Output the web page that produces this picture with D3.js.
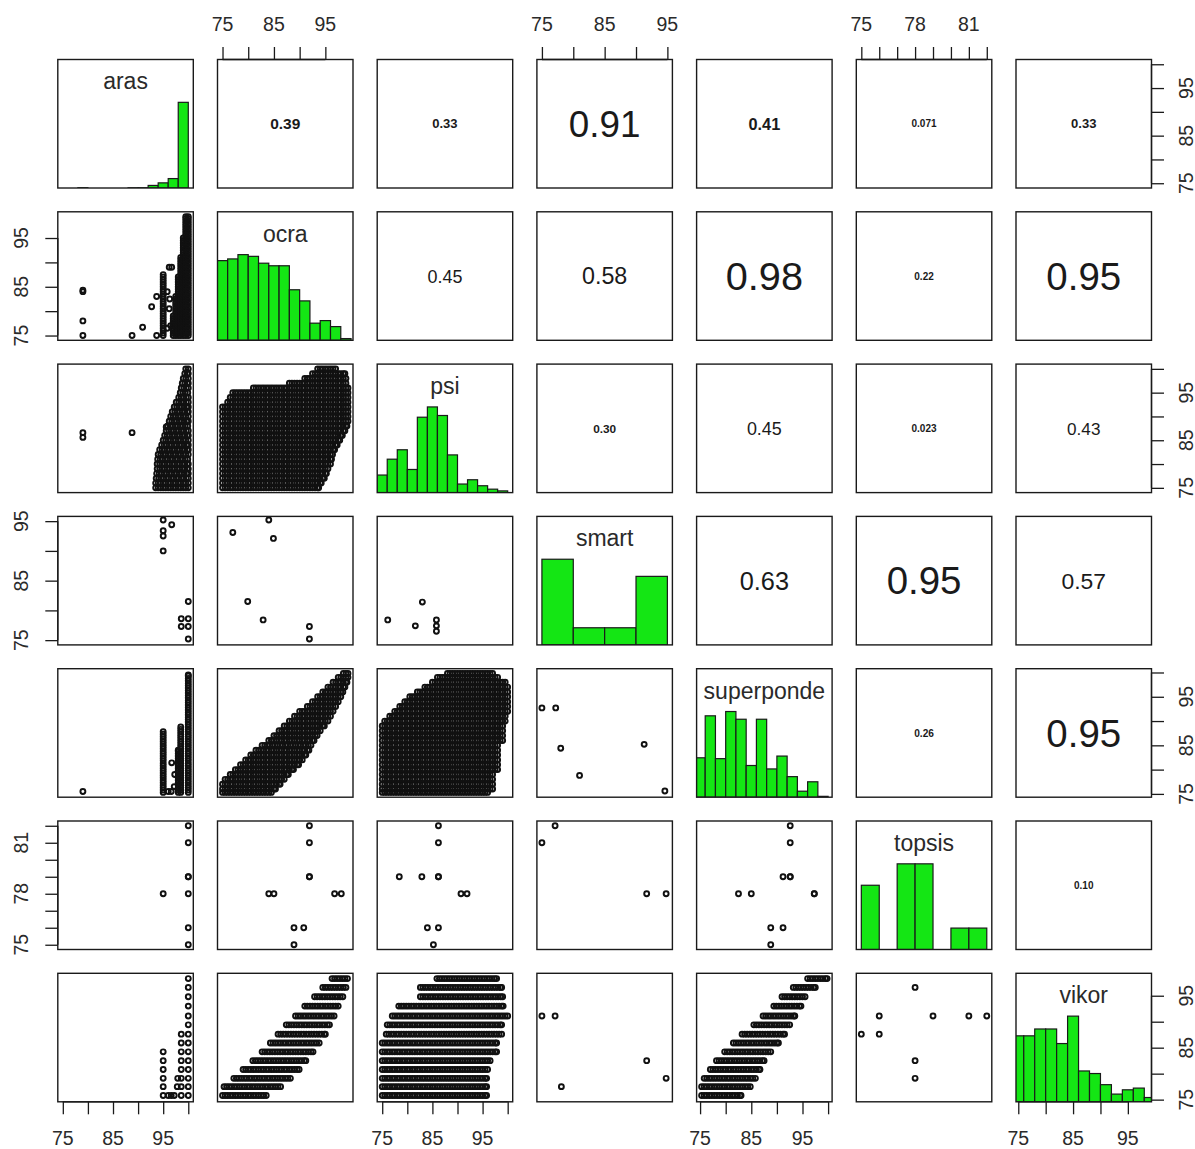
<!DOCTYPE html>
<html>
<head>
<meta charset="utf-8">
<script src="https://cdn.jsdelivr.net/npm/d3@7"></script>
<style>
  body { margin: 0; background: #fff; }
  svg { display: block; }
  text { font-family: "Liberation Sans", Arial, Helvetica, sans-serif; }
</style>
</head>
<body>
<svg id="chart" width="1195" height="1149"></svg>
<script>
// ---------- variables ----------
const varNames = ["aras", "ocra", "psi", "smart", "superponde", "topsis", "vikor"];
const dataMin = [75, 75, 75, 75, 75.3, 75, 75.5];
const dataMax = [100, 99.4, 100, 95, 99.8, 82, 98.4];

// axis ticks and the labels printed under them
const tickValues = [
  [75, 80, 85, 90, 95, 100],
  [75, 80, 85, 90, 95],
  [75, 80, 85, 90, 95, 100],
  [75, 80, 85, 90, 95],
  [75, 80, 85, 90, 95, 100],
  [75, 76, 77, 78, 79, 80, 81, 82],
  [75, 80, 85, 90, 95]
];
const tickLabels = [
  [75, 85, 95], [75, 85, 95], [75, 85, 95], [75, 85, 95],
  [75, 85, 95], [75, 78, 81], [75, 85, 95]
];

// ---------- histograms on the diagonal ----------
const arasBreaks = [74, 76, 78, 80, 82, 84, 86, 88, 90, 92, 94, 96, 98, 100];
const arasCounts = [0, 0, 0.3, 0, 0, 0, 0, 0.2, 0.3, 3, 6, 11, 100];
const ocraBreaks = [74, 76, 78, 80, 82, 84, 86, 88, 90, 92, 94, 96, 98, 100];
const ocraCounts = [93, 95, 100, 98, 90, 87, 87, 59, 46, 20, 23, 16, 2];
const psiBreaks = [74, 76, 78, 80, 82, 84, 86, 88, 90, 92, 94, 96, 98, 100];
const psiCounts = [20.5, 39, 50, 27, 88, 100, 90, 44, 10, 15, 8, 4, 2];
const smartBreaks = [75, 80, 85, 90, 95];
const smartCounts = [5, 1, 1, 4];
const superpondeBreaks = [74, 76, 78, 80, 82, 84, 86, 88, 90, 92, 94, 96, 98, 100];
const superpondeCounts = [46, 95, 45, 100, 91, 37, 91, 33, 48, 24, 7, 18, 1];
const topsisBreaks = [75, 76, 77, 78, 79, 80, 81, 82];
const topsisCounts = [3, 0, 4, 4, 0, 1, 1];
const vikorBreaks = [74, 76, 78, 80, 82, 84, 86, 88, 90, 92, 94, 96, 98, 100];
const vikorCounts = [77, 77, 85, 85, 68, 100, 36, 33, 20, 9, 14, 16, 5];

// ---------- correlations (upper panels): [row, col, |r|, printed text] ----------
const corCells = [
  [0, 1, 0.39, "0.39"], [0, 2, 0.33, "0.33"], [0, 3, 0.91, "0.91"], [0, 4, 0.41, "0.41"],
  [0, 5, 0.071, "0.071"], [0, 6, 0.33, "0.33"],
  [1, 2, 0.45, "0.45"], [1, 3, 0.58, "0.58"], [1, 4, 0.98, "0.98"], [1, 5, 0.22, "0.22"], [1, 6, 0.95, "0.95"],
  [2, 3, 0.30, "0.30"], [2, 4, 0.45, "0.45"], [2, 5, 0.023, "0.023"], [2, 6, 0.43, "0.43"],
  [3, 4, 0.63, "0.63"], [3, 5, 0.95, "0.95"], [3, 6, 0.57, "0.57"],
  [4, 5, 0.26, "0.26"], [4, 6, 0.95, "0.95"],
  [5, 6, 0.10, "0.10"]
];

// ---------- scatter data (lower panels) ----------
// single points: [x, y]
// row runs: [y, xFrom, xTo]  (observations packed along x between the two ends)
// column runs: [x, yFrom, yTo] (observations packed along y between the two ends)
const vikorLevels = [75.8, 77.5, 79.1, 80.8, 82.5, 84.2, 85.9, 87.6, 89.4, 91.1, 93.0, 94.8, 96.6, 98.3];

const arasOcraPts = [[79, 84], [79, 84.3], [79, 78], [79, 75], [88.8, 75], [90.9, 76.7], [92.7, 80.9],
  [93.7, 83], [93.7, 75], [96.2, 89], [96.7, 89], [95.8, 84], [96.2, 80.5], [96.5, 77], [95.8, 76.5], [96.3, 82.5]];
const arasOcraCols = [[95, 75, 87.5], [97, 75, 79], [97.5, 75, 83], [98, 75, 87], [98.5, 75, 91],
  [99, 75, 95], [99.5, 75, 99.4], [100, 75, 99.4]];

const arasPsiPts = [[79, 86.6], [79, 85.6], [88.8, 86.6], [95.6, 87.8]];
const arasPsiRows = [[75, 93.5, 100], [76, 93.5, 100], [77, 93.6, 100], [78, 93.7, 100], [79, 93.8, 100],
  [80, 93.8, 100], [81, 93.9, 100], [82, 94, 100], [83, 94.3, 100], [84, 94.7, 100], [85, 95, 100],
  [86, 95.3, 100], [87, 95.6, 100], [88, 95.9, 100], [89, 96.2, 100], [90, 96.5, 100], [91, 96.8, 100],
  [92, 97.2, 100], [93, 97.6, 100], [94, 98.1, 100], [95, 98.4, 100], [96, 98.6, 100], [97, 98.8, 100],
  [98, 99, 100], [99, 99.3, 100], [100, 99.5, 100]];

const ocraPsiRows = [[75, 75, 93.7], [76, 75, 94.2], [77, 75, 94.8], [78, 75, 95.2], [79, 75, 95.6],
  [80, 75, 96], [81, 75, 96.2], [82, 75, 96.4], [83, 75, 96.8], [84, 75, 97.3], [85, 75, 97.8],
  [86, 75, 98.3], [87, 75, 98.8], [88, 75, 99.2], [89, 75, 99.4], [90, 75, 99.4], [91, 75, 99.4],
  [92, 75, 99.4], [93, 76, 99.4], [94, 76.5, 99.4], [95, 77, 99.4], [96, 81, 99.4], [97, 88, 99],
  [98, 91, 99], [99, 92.5, 98.8], [100, 93.5, 97]];

const arasSmartPts = [[95, 95.2], [95, 93.4], [95, 92.5], [95, 90], [96.7, 94.4], [100, 81.5],
  [98.6, 78.6], [100, 78.6], [98.6, 77.3], [100, 77.3], [100, 75.2]];
const ocraSmartPts = [[77, 93.1], [84, 95.2], [84.9, 92.1], [79.9, 81.5], [82.9, 78.4], [91.9, 77.3], [91.9, 75.2]];
const psiSmartPts = [[76.1, 78.4], [81.6, 77.4], [83, 81.4], [85.8, 78.4], [85.8, 77.4], [85.8, 76.5]];

const arasSuperpondePts = [[79, 75.5], [96.7, 81.4], [96, 75.5], [96.6, 75.5], [97.2, 76.5], [97.3, 79]];
const arasSuperpondeCols = [[95, 75.3, 87.8], [98.5, 75.3, 88.8], [98, 75.3, 84], [100, 75.3, 99.5]];
const ocraSuperpondeRows = [[75.3, 75, 84.5], [76, 75, 85.3], [77, 75, 86.2], [78, 75.5, 87], [79, 76.5, 87.8],
  [80, 77.5, 88.8], [81, 78.5, 89.8], [82, 79.5, 90.5], [83, 80.5, 91.2], [84, 81.5, 91.8], [85, 82.7, 92.2],
  [86, 84, 92.8], [87, 85, 93.4], [88, 86, 94], [89, 87, 94.8], [90, 88, 95.5], [91, 89, 96], [92, 90, 96.5],
  [93, 91.5, 97], [94, 92.5, 97.5], [95, 93.5, 98], [96, 94.5, 98.4], [97, 95.5, 98.8], [98, 96.5, 99.2],
  [99, 97.5, 99.4], [99.8, 98.5, 99.4]];
const psiSuperpondeRows = [[75.3, 75, 96], [76, 75, 97], [77, 75, 97], [78, 75, 97], [79, 75, 97],
  [80, 75, 98], [81, 75, 98], [82, 75, 98], [83, 75, 98], [84, 75, 98], [85, 75, 98], [86, 75, 99],
  [87, 75, 99], [88, 75, 99], [89, 75, 99], [90, 75.5, 99.5], [91, 76.5, 99.5], [92, 77.5, 100],
  [93, 78.5, 100], [94, 79.5, 100], [95, 80.5, 100], [96, 82, 100], [97, 83.5, 100], [98, 85, 99.5],
  [99, 86, 98], [99.8, 88, 97]];
const smartSuperpondePts = [[75, 92.7], [77.2, 92.7], [78, 84.4], [81, 78.8], [91.3, 85.2], [94.6, 75.6]];

const arasTopsisPts = [[100, 82], [100, 81], [100, 79], [100, 79], [100, 78], [100, 76], [100, 75], [95, 78]];
const ocraTopsisPts = [[91.9, 82], [91.9, 81], [91.9, 79], [91.9, 79], [84, 78], [85, 78], [96.8, 78],
  [98.1, 78], [88.9, 76], [90.8, 76], [88.9, 75]];
const psiTopsisPts = [[86.2, 82], [86.2, 81], [78.4, 79], [82.9, 79], [86.2, 79], [86.2, 79], [90.7, 78],
  [91.9, 78], [84, 76], [86.2, 76], [85.2, 75]];
const smartTopsisPts = [[77.1, 82], [75, 81], [91.7, 78], [94.8, 78]];
const superpondeTopsisPts = [[92.6, 82], [92.6, 81], [91.2, 79], [92.6, 79], [92.6, 79], [82.5, 78],
  [85, 78], [97.3, 78], [97.3, 78], [88.8, 76], [91.2, 76], [88.8, 75]];

const arasVikorPts = [[96, 75.8], [96.6, 75.8], [97.2, 75.8], [97.8, 77.5], [97.9, 79.1]];
const arasVikorCols = [[95, 75.8, 84.2], [98.6, 75.8, 87.6], [100, 75.8, 98.3]];
const ocraVikorRows = [[75.8, 75, 83.5], [77.5, 75.3, 86.3], [79.1, 77.2, 88.3], [80.8, 79, 89.9],
  [82.5, 80.9, 91.2], [84.2, 82.7, 92.6], [85.9, 84.3, 93.8], [87.6, 85.8, 95], [89.4, 87.4, 95.8],
  [91.1, 89.2, 96.7], [93.0, 91, 97.6], [94.8, 92.9, 98.4], [96.6, 94.5, 99], [98.3, 96.3, 99.4]];
const psiVikorRows = [[75.8, 75, 95.8], [77.5, 75, 95.8], [79.1, 75, 95.8], [80.8, 75, 96], [82.5, 75, 96.5],
  [84.2, 75, 97.8], [85.9, 75, 97.8], [87.6, 75.8, 98.8], [89.4, 76, 98.8], [91.1, 77, 100],
  [93.0, 78.3, 99.1], [94.8, 82.6, 99], [96.6, 82.6, 98.8], [98.3, 85.9, 97.8]];
const smartVikorPts = [[75, 91.1], [77.1, 91.1], [91.7, 82.5], [94.8, 79.1], [78.1, 77.5]];
const superpondeVikorRows = [[75.8, 75.3, 83], [77.5, 75.3, 84.8], [79.1, 75.8, 85.8], [80.8, 77, 86.7],
  [82.5, 78.2, 87.5], [84.2, 79.8, 88.8], [85.9, 81.5, 90.3], [87.6, 83.2, 91.5], [89.4, 85.5, 92.6],
  [91.1, 87.3, 93.5], [93.0, 89.4, 94.7], [94.8, 91, 95.6], [96.6, 93.2, 97.5], [98.3, 96, 99.8]];
const topsisVikorPts = [[75, 87.6], [76, 91.1], [76, 87.6], [78, 96.6], [78, 82.5], [78, 79.1],
  [79, 91.1], [81, 91.1], [82, 91.1]];

// ---------- layout ----------
const panelLeft0 = 57.8, pitchX = 159.7, panelW = 135.5;
const panelTop0 = 59.5, pitchY = 152.3, panelH = 128.5;
const green = "#14e614";
const ink = "#1a1a1a";
const runStep = 0.5;

const hists = [
  [arasBreaks, arasCounts], [ocraBreaks, ocraCounts], [psiBreaks, psiCounts],
  [smartBreaks, smartCounts], [superpondeBreaks, superpondeCounts],
  [topsisBreaks, topsisCounts], [vikorBreaks, vikorCounts]
];

// run expansion: observations sit half a unit apart along each run
function runValues(from, to, step) {
  const v = d3.range(from, to + 1e-9, step);
  if (to - v[v.length - 1] > 0.2) v.push(to);
  return v;
}
const fromRows = rows => rows.flatMap(([y, a, b]) => runValues(a, b, runStep).map(x => [x, y]));
const fromCols = cols => cols.flatMap(([x, a, b]) => runValues(a, b, runStep).map(y => [x, y]));
const fromLevels = cols => cols.flatMap(([x, a, b]) =>
  vikorLevels.filter(l => l >= a - 1e-6 && l <= b + 1e-6).map(y => [x, y]));

// lower panels: key "row,col" -> points [x (col variable), y (row variable)]
const lowerPanels = new Map([
  ["1,0", arasOcraPts.concat(fromCols(arasOcraCols))],
  ["2,0", arasPsiPts.concat(fromRows(arasPsiRows))],
  ["2,1", fromRows(ocraPsiRows)],
  ["3,0", arasSmartPts],
  ["3,1", ocraSmartPts],
  ["3,2", psiSmartPts],
  ["4,0", arasSuperpondePts.concat(fromCols(arasSuperpondeCols))],
  ["4,1", fromRows(ocraSuperpondeRows)],
  ["4,2", fromRows(psiSuperpondeRows)],
  ["4,3", smartSuperpondePts],
  ["5,0", arasTopsisPts],
  ["5,1", ocraTopsisPts],
  ["5,2", psiTopsisPts],
  ["5,3", smartTopsisPts],
  ["5,4", superpondeTopsisPts],
  ["6,0", arasVikorPts.concat(fromLevels(arasVikorCols))],
  ["6,1", fromRows(ocraVikorRows)],
  ["6,2", fromRows(psiVikorRows)],
  ["6,3", smartVikorPts],
  ["6,4", fromRows(superpondeVikorRows)],
  ["6,5", topsisVikorPts]
]);

// ---------- scales ----------
const n = varNames.length;
const padded = j => { const d = (dataMax[j] - dataMin[j]) * 0.04; return [dataMin[j] - d, dataMax[j] + d]; };
const colLeft = j => panelLeft0 + j * pitchX;
const rowTop = i => panelTop0 + i * pitchY;
const xScales = varNames.map((_, j) => d3.scaleLinear().domain(padded(j)).range([colLeft(j), colLeft(j) + panelW]));
const yScales = varNames.map((_, i) => d3.scaleLinear().domain(padded(i)).range([rowTop(i) + panelH, rowTop(i)]));

// correlation text grows with |r|, with a floor for the weakest ones
const corSize = r => Math.max(10, 41 * r - 0.5);

const svg = d3.select("#chart");
const defs = svg.append("defs");

for (let i = 0; i < n; i++) {
  for (let j = 0; j < n; j++) {
    const g = svg.append("g");
    const clipId = `clip-${i}-${j}`;
    defs.append("clipPath").attr("id", clipId)
      .append("rect").attr("x", colLeft(j)).attr("y", rowTop(i)).attr("width", panelW).attr("height", panelH);
    const body = g.append("g").attr("clip-path", `url(#${clipId})`);
    const cx = colLeft(j) + panelW / 2;

    if (i === j) {
      const [breaks, counts] = hists[i];
      const maxC = d3.max(counts);
      const hy = d3.scaleLinear().domain([0, 1.5]).range([rowTop(i) + panelH, rowTop(i)]);
      const x = xScales[j];
      body.selectAll("rect.bar").data(counts).join("rect")
        .attr("x", (d, k) => x(breaks[k]))
        .attr("width", (d, k) => x(breaks[k + 1]) - x(breaks[k]))
        .attr("y", d => hy(d / maxC))
        .attr("height", d => hy(0) - hy(d / maxC))
        .attr("fill", green).attr("stroke", ink).attr("stroke-width", 1.2);
      g.append("text")
        .attr("x", cx).attr("y", rowTop(i) + panelH * (1 - 0.8333) + 8.5)
        .attr("text-anchor", "middle").attr("font-size", 23).attr("fill", "#2a2a2a")
        .text(varNames[i]);
    } else if (j > i) {
      const cell = corCells.find(c => c[0] === i && c[1] === j);
      const fs = corSize(cell[2]);
      g.append("text")
        .attr("x", cx).attr("y", rowTop(i) + panelH / 2 + fs * 0.36)
        .attr("text-anchor", "middle").attr("font-size", fs).attr("fill", ink)
        .attr("font-weight", fs < 17 ? "bold" : "normal")
        .text(cell[3]);
    } else {
      const pts = lowerPanels.get(`${i},${j}`) || [];
      body.selectAll("circle").data(pts).join("circle")
        .attr("cx", d => xScales[j](d[0]))
        .attr("cy", d => yScales[i](d[1]))
        .attr("r", 2.45)
        .attr("fill", "none").attr("stroke", "#111").attr("stroke-width", 1.95);
    }

    g.append("rect")
      .attr("x", colLeft(j)).attr("y", rowTop(i)).attr("width", panelW).attr("height", panelH)
      .attr("fill", "none").attr("stroke", ink).attr("stroke-width", 1.4);
  }
}

// ---------- outer axes (alternating sides) ----------
const tickLen = 12.5;
const labelColor = "#2a2a2a";
for (let k = 0; k < n; k++) {
  const ticks = tickValues[k];
  const labels = tickLabels[k];
  if (k % 2 === 1) {
    // top axis
    const ax = d3.axisTop(xScales[k]).tickValues(ticks).tickFormat("").tickSizeInner(tickLen).tickSizeOuter(0);
    svg.append("g").attr("transform", `translate(0,${rowTop(0)})`).call(ax)
      .call(s => s.select(".domain").attr("d", `M${xScales[k](ticks[0])},0H${xScales[k](ticks[ticks.length - 1])}`))
      .selectAll("line,path").attr("stroke", ink).attr("stroke-width", 1.3);
    svg.append("g").selectAll("text").data(labels).join("text")
      .attr("x", d => xScales[k](d)).attr("y", 30.7)
      .attr("text-anchor", "middle").attr("font-size", 19.5).attr("fill", labelColor).text(d => d);
    // left axis
    const ay = d3.axisLeft(yScales[k]).tickValues(ticks).tickFormat("").tickSizeInner(tickLen).tickSizeOuter(0);
    svg.append("g").attr("transform", `translate(${colLeft(0)},0)`).call(ay)
      .call(s => s.select(".domain").attr("d", `M0,${yScales[k](ticks[0])}V${yScales[k](ticks[ticks.length - 1])}`))
      .selectAll("line,path").attr("stroke", ink).attr("stroke-width", 1.3);
    svg.append("g").selectAll("text").data(labels).join("text")
      .attr("transform", d => `translate(27.5,${yScales[k](d)}) rotate(-90)`)
      .attr("text-anchor", "middle").attr("font-size", 19.5).attr("fill", labelColor).text(d => d);
  } else {
    // bottom axis
    const bottomY = rowTop(n - 1) + panelH;
    const ax = d3.axisBottom(xScales[k]).tickValues(ticks).tickFormat("").tickSizeInner(tickLen).tickSizeOuter(0);
    svg.append("g").attr("transform", `translate(0,${bottomY})`).call(ax)
      .call(s => s.select(".domain").attr("d", `M${xScales[k](ticks[0])},0H${xScales[k](ticks[ticks.length - 1])}`))
      .selectAll("line,path").attr("stroke", ink).attr("stroke-width", 1.3);
    svg.append("g").selectAll("text").data(labels).join("text")
      .attr("x", d => xScales[k](d)).attr("y", 1145.3)
      .attr("text-anchor", "middle").attr("font-size", 19.5).attr("fill", labelColor).text(d => d);
    // right axis
    const rightX = colLeft(n - 1) + panelW;
    const ay = d3.axisRight(yScales[k]).tickValues(ticks).tickFormat("").tickSizeInner(tickLen).tickSizeOuter(0);
    svg.append("g").attr("transform", `translate(${rightX},0)`).call(ay)
      .call(s => s.select(".domain").attr("d", `M0,${yScales[k](ticks[0])}V${yScales[k](ticks[ticks.length - 1])}`))
      .selectAll("line,path").attr("stroke", ink).attr("stroke-width", 1.3);
    svg.append("g").selectAll("text").data(labels).join("text")
      .attr("transform", d => `translate(1192.5,${yScales[k](d)}) rotate(-90)`)
      .attr("text-anchor", "middle").attr("font-size", 19.5).attr("fill", labelColor).text(d => d);
  }
}
</script>
</body>
</html>
